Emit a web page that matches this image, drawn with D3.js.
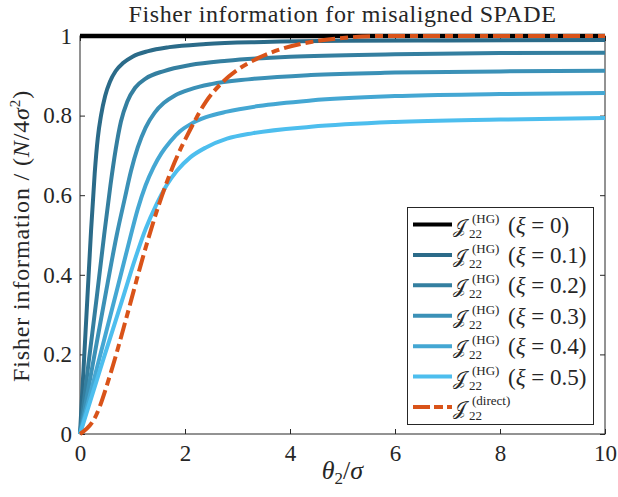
<!DOCTYPE html>
<html>
<head>
<meta charset="utf-8">
<script src="https://cdnjs.cloudflare.com/ajax/libs/d3/7.8.5/d3.min.js"></script>
<style>
body { margin: 0; background: #fff; }
text { font-family: "Liberation Serif", "DejaVu Serif", serif; fill: #262626; }
</style>
</head>
<body>
<div id="chart"></div>
<script>
// values
var xTicks = [0, 2, 4, 6, 8, 10];
var yTicks = [0, 0.2, 0.4, 0.6, 0.8, 1];
var xiValues = ['0', '0.1', '0.2', '0.3', '0.4', '0.5'];

var thetaXi0 = [0, 10];
var fisherXi0 = [1, 1];
var thetaXi1 = [0, 0.07, 0.14, 0.21, 0.28, 0.34, 0.4, 0.48, 0.57, 0.68, 0.82, 1.0, 1.3, 1.7, 2.4, 3.5, 5, 7, 10];
var fisherXi1 = [0, 0.17, 0.34, 0.51, 0.655, 0.745, 0.8, 0.85, 0.885, 0.912, 0.932, 0.948, 0.962, 0.972, 0.98, 0.985, 0.988, 0.989, 0.99];
var thetaXi2 = [0, 0.16, 0.32, 0.46, 0.58, 0.68, 0.78, 0.9, 1.05, 1.25, 1.6, 2.1, 2.8, 4, 6, 8, 10];
var fisherXi2 = [0, 0.175, 0.345, 0.5, 0.625, 0.715, 0.785, 0.835, 0.87, 0.893, 0.912, 0.927, 0.938, 0.948, 0.954, 0.957, 0.958];
var thetaXi3 = [0, 0.25, 0.5, 0.7, 0.85, 0.97, 1.1, 1.25, 1.42, 1.6, 1.8, 2.1, 2.5, 3.2, 4.4, 6, 8, 10];
var fisherXi3 = [0, 0.18, 0.36, 0.5, 0.59, 0.66, 0.72, 0.77, 0.807, 0.832, 0.85, 0.866, 0.879, 0.891, 0.902, 0.908, 0.911, 0.913];
var thetaXi4 = [0, 0.35, 0.7, 0.95, 1.1, 1.25, 1.4, 1.55, 1.72, 1.9, 2.1, 2.4, 2.8, 3.4, 4.4, 6, 8, 10];
var fisherXi4 = [0, 0.18, 0.36, 0.49, 0.565, 0.625, 0.67, 0.705, 0.735, 0.76, 0.778, 0.796, 0.81, 0.824, 0.838, 0.849, 0.854, 0.857];
var thetaXi5 = [0, 0.45, 0.8, 1.05, 1.25, 1.45, 1.65, 1.85, 2.1, 2.4, 2.8, 3.3, 4.4, 6, 8, 10];
var fisherXi5 = [0, 0.19, 0.335, 0.44, 0.515, 0.575, 0.625, 0.662, 0.695, 0.72, 0.742, 0.756, 0.772, 0.784, 0.79, 0.794];
var thetaDirect = [0, 0.3, 0.6, 0.9, 1.2, 1.5, 1.8, 2.1, 2.4, 2.7, 3.0, 3.4, 3.8, 4.4, 5.0, 5.8, 10];
var fisherDirect = [0, 0.045, 0.16, 0.3, 0.445, 0.575, 0.682, 0.765, 0.835, 0.882, 0.915, 0.945, 0.966, 0.985, 0.995, 1, 1];

var hgColors = ['#000000', '#2b6b89', '#347fa0', '#3b91b7', '#44a7d3', '#4dbeee'];
var directColor = '#d95319';

var width = 618,
    height = 497,
    margin = {left: 80, right: 13, top: 36, bottom: 63};

var svg = d3.select('#chart').append('svg')
    .attr('width', width)
    .attr('height', height);

var x = d3.scaleLinear().domain([0, 10]).range([margin.left, width - margin.right]);
var y = d3.scaleLinear().domain([0, 1]).range([height - margin.bottom, margin.top]);

function zip(ts, fs) {
    return ts.map(function(t, i) { return [t, fs[i]]; });
}

// widen a text a little with letter-spacing (the figure uses a wider TeX font)
function fitWidth(sel, target) {
    var node = sel.node(),
        n = node.getNumberOfChars(),
        w = node.getComputedTextLength();
    if (n > 1 && target > w) sel.style('letter-spacing', ((target - w) / n) + 'px');
}

var hgSeries = [
    zip(thetaXi0, fisherXi0),
    zip(thetaXi1, fisherXi1),
    zip(thetaXi2, fisherXi2),
    zip(thetaXi3, fisherXi3),
    zip(thetaXi4, fisherXi4),
    zip(thetaXi5, fisherXi5)
];
var directSeries = zip(thetaDirect, fisherDirect);

// axes box with inward ticks on all four sides
var axisColor = '#262626';
function styleAxis(g) {
    g.select('.domain').remove();
    g.selectAll('.tick line').attr('stroke', axisColor);
    g.selectAll('.tick text').style('font-size', '23px').attr('fill', axisColor);
}
svg.append('g')
    .attr('transform', 'translate(0,' + y(0) + ')')
    .call(d3.axisBottom(x).tickValues(xTicks).tickSizeInner(-5).tickSizeOuter(0).tickPadding(11)
        .tickFormat(d3.format('d')))
    .call(styleAxis);
svg.append('g')
    .attr('transform', 'translate(0,' + y(1) + ')')
    .call(d3.axisTop(x).tickValues(xTicks).tickSizeInner(-5).tickSizeOuter(0).tickFormat(''))
    .call(styleAxis);
svg.append('g')
    .attr('transform', 'translate(' + x(0) + ',0)')
    .call(d3.axisLeft(y).tickValues(yTicks).tickSizeInner(-5).tickSizeOuter(0).tickPadding(8)
        .tickFormat(function(d) { return d === 0 || d === 1 ? d3.format('d')(d) : d3.format('.1f')(d); }))
    .call(styleAxis);
svg.append('g')
    .attr('transform', 'translate(' + x(10) + ',0)')
    .call(d3.axisRight(y).tickValues(yTicks).tickSizeInner(-5).tickSizeOuter(0).tickFormat(''))
    .call(styleAxis);
svg.append('rect')
    .attr('x', x(0)).attr('y', y(1))
    .attr('width', x(10) - x(0)).attr('height', y(0) - y(1))
    .attr('fill', 'none').attr('stroke', axisColor).attr('stroke-width', 1);

// curves
var line = d3.line()
    .x(function(d) { return x(d[0]); })
    .y(function(d) { return y(d[1]); })
    .curve(d3.curveMonotoneX);

svg.append('g').selectAll('path')
    .data(hgSeries)
    .enter().append('path')
    .attr('d', line)
    .attr('fill', 'none')
    .attr('stroke', function(d, i) { return hgColors[i]; })
    .attr('stroke-width', function(d, i) { return i === 0 ? 4.5 : 4; });

svg.append('path')
    .datum(directSeries)
    .attr('d', line)
    .attr('fill', 'none')
    .attr('stroke', directColor)
    .attr('stroke-width', 4)
    .attr('stroke-dasharray', '17,5,8,5');

// title and axis labels
var title = svg.append('text')
    .attr('x', (x(0) + x(10)) / 2).attr('y', 22)
    .attr('text-anchor', 'middle')
    .style('font-size', '24px')
    .text('Fisher information for misaligned SPADE');
fitWidth(title, 428);

var xl = svg.append('text')
    .attr('x', (x(0) + x(10)) / 2).attr('y', 479)
    .attr('text-anchor', 'middle')
    .style('font-size', '26px');
xl.append('tspan').style('font-style', 'italic').text('θ');
xl.append('tspan').attr('dy', 5).style('font-size', '17px').text('2');
xl.append('tspan').attr('dy', -5).text('/');
xl.append('tspan').style('font-style', 'italic').text('σ');

var yl = svg.append('text')
    .attr('transform', 'translate(29,236) rotate(-90)')
    .attr('text-anchor', 'middle')
    .style('font-size', '24px');
yl.append('tspan').text('Fisher information / (');
yl.append('tspan').style('font-style', 'italic').text('N');
yl.append('tspan').text('/4');
yl.append('tspan').style('font-style', 'italic').text('σ');
yl.append('tspan').attr('dy', -9).style('font-size', '15px').text('2');
yl.append('tspan').attr('dy', 9).text(')');
fitWidth(yl, 292);

// legend
var legend = svg.append('g');
legend.append('rect')
    .attr('x', 407.5).attr('y', 207.5)
    .attr('width', 186).attr('height', 217)
    .attr('fill', '#fff').attr('stroke', axisColor).attr('stroke-width', 1);

var entries = xiValues.map(function(v, i) {
    return {sup: '(HG)', xi: v, color: hgColors[i], dash: null};
});
entries.push({sup: '(direct)', xi: null, color: directColor, dash: '17,4,9,4'});

var rowY = d3.scaleLinear().domain([0, 6]).range([224.5, 407]);

entries.forEach(function(e, i) {
    var cy = rowY(i);
    legend.append('line')
        .attr('x1', 413).attr('x2', 452)
        .attr('y1', cy).attr('y2', cy)
        .attr('stroke', e.color)
        .attr('stroke-width', 4)
        .attr('stroke-dasharray', e.dash);
    // one label per row: J with superscript and subscript, then the argument
    var t = legend.append('text').style('font-size', '23px');
    t.append('tspan').attr('x', 453).attr('y', cy + 8).style('font-size', '19px').text('𝒥');
    t.append('tspan').attr('x', 472).attr('y', cy - 2).style('font-size', '13px').text(e.sup);
    t.append('tspan').attr('x', 469).attr('y', cy + 13).style('font-size', '13px').text('22');
    if (e.xi !== null) {
        t.append('tspan').attr('x', 508).attr('y', cy + 8).text('(');
        t.append('tspan').style('font-style', 'italic').text('ξ');
        t.append('tspan').text(' = ' + e.xi + ')');
    }
});
</script>
</body>
</html>
